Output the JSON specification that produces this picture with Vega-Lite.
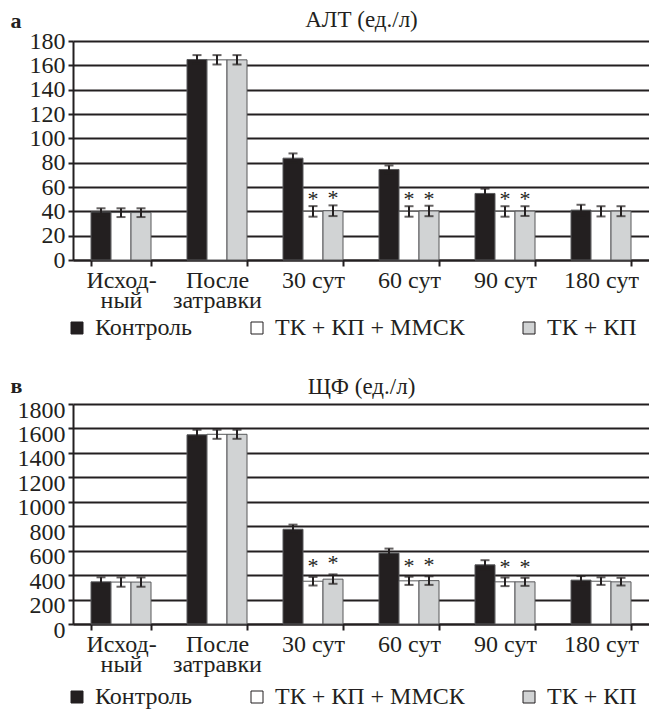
{
  "$schema": "https://vega.github.io/schema/vega-lite/v6.json",
  "background": "white",
  "padding": {"left": 10, "right": 0, "top": 8, "bottom": 0},
  "spacing": 34,
  "config": {
    "font": "Liberation Serif, Times New Roman, DejaVu Serif, serif",
    "view": {"stroke": null},
    "text": {"font": "Liberation Serif, Times New Roman, DejaVu Serif, serif"},
    "axis": {
      "labelFont": "Liberation Serif, Times New Roman, DejaVu Serif, serif", "labelFontSize": 24, "labelColor": "#231f20",
      "domainColor": "#231f20", "domainWidth": 2,
      "tickColor": "#231f20", "tickWidth": 2,
      "gridColor": "#231f20", "gridWidth": 2, "gridOpacity": 1,
      "titleFont": "Liberation Serif, Times New Roman, DejaVu Serif, serif", "titleColor": "#231f20"
    },
    "legend": {
      "orient": "none", "direction": "horizontal", "title": null,
      "symbolType": "square", "symbolSize": 144, "symbolStrokeColor": "#231f20", "symbolStrokeWidth": 1,
      "labelFont": "Liberation Serif, Times New Roman, DejaVu Serif, serif", "labelFontSize": 24, "labelColor": "#231f20",
      "labelLimit": 0, "columnPadding": 52, "labelOffset": 6, "padding": 0
    }
  },
  "datasets": {
    "a": [
      {"cat": "Исход-|ный", "grp": "Контроль", "v": 39.5, "lo": 36.5, "hi": 42.5, "star": ""},
      {"cat": "Исход-|ный", "grp": "ТК + КП + ММСК", "v": 39, "lo": 35.3, "hi": 42.5, "star": ""},
      {"cat": "Исход-|ный", "grp": "ТК + КП", "v": 39, "lo": 35.3, "hi": 42.5, "star": ""},
      {"cat": "После|затравки", "grp": "Контроль", "v": 164.8, "lo": 161.2, "hi": 168.4, "star": ""},
      {"cat": "После|затравки", "grp": "ТК + КП + ММСК", "v": 164.5, "lo": 160.7, "hi": 168.4, "star": ""},
      {"cat": "После|затравки", "grp": "ТК + КП", "v": 164.5, "lo": 160.7, "hi": 168.4, "star": ""},
      {"cat": "30 сут", "grp": "Контроль", "v": 83.7, "lo": 79.8, "hi": 87.6, "star": ""},
      {"cat": "30 сут", "grp": "ТК + КП + ММСК", "v": 40, "lo": 35.6, "hi": 44.3, "star": "*"},
      {"cat": "30 сут", "grp": "ТК + КП", "v": 40.5, "lo": 36.1, "hi": 44.9, "star": "*"},
      {"cat": "60 сут", "grp": "Контроль", "v": 74.4, "lo": 71.1, "hi": 77.7, "star": ""},
      {"cat": "60 сут", "grp": "ТК + КП + ММСК", "v": 40, "lo": 35.6, "hi": 44.2, "star": "*"},
      {"cat": "60 сут", "grp": "ТК + КП", "v": 40.3, "lo": 36, "hi": 44.6, "star": "*"},
      {"cat": "90 сут", "grp": "Контроль", "v": 54.7, "lo": 50.8, "hi": 58.6, "star": ""},
      {"cat": "90 сут", "grp": "ТК + КП + ММСК", "v": 40, "lo": 35.6, "hi": 44.2, "star": "*"},
      {"cat": "90 сут", "grp": "ТК + КП", "v": 40.2, "lo": 36.2, "hi": 44.2, "star": "*"},
      {"cat": "180 сут", "grp": "Контроль", "v": 41, "lo": 36.6, "hi": 45.4, "star": ""},
      {"cat": "180 сут", "grp": "ТК + КП + ММСК", "v": 40, "lo": 35.8, "hi": 44.2, "star": ""},
      {"cat": "180 сут", "grp": "ТК + КП", "v": 40.2, "lo": 36, "hi": 44.2, "star": ""}
    ],
    "b": [
      {"cat": "Исход-|ный", "grp": "Контроль", "v": 345, "lo": 308, "hi": 382, "star": ""},
      {"cat": "Исход-|ный", "grp": "ТК + КП + ММСК", "v": 343, "lo": 305, "hi": 381, "star": ""},
      {"cat": "Исход-|ный", "grp": "ТК + КП", "v": 343, "lo": 305, "hi": 381, "star": ""},
      {"cat": "После|затравки", "grp": "Контроль", "v": 1548, "lo": 1508, "hi": 1589, "star": ""},
      {"cat": "После|затравки", "grp": "ТК + КП + ММСК", "v": 1552, "lo": 1515, "hi": 1589, "star": ""},
      {"cat": "После|затравки", "grp": "ТК + КП", "v": 1552, "lo": 1515, "hi": 1589, "star": ""},
      {"cat": "30 сут", "grp": "Контроль", "v": 775, "lo": 737, "hi": 813, "star": ""},
      {"cat": "30 сут", "grp": "ТК + КП + ММСК", "v": 350, "lo": 315, "hi": 385, "star": "*"},
      {"cat": "30 сут", "grp": "ТК + КП", "v": 367, "lo": 329, "hi": 406, "star": "*"},
      {"cat": "60 сут", "grp": "Контроль", "v": 580, "lo": 543, "hi": 617, "star": ""},
      {"cat": "60 сут", "grp": "ТК + КП + ММСК", "v": 353, "lo": 320, "hi": 387, "star": "*"},
      {"cat": "60 сут", "grp": "ТК + КП", "v": 355, "lo": 320, "hi": 390, "star": "*"},
      {"cat": "90 сут", "grp": "Контроль", "v": 484, "lo": 446, "hi": 522, "star": ""},
      {"cat": "90 сут", "grp": "ТК + КП + ММСК", "v": 345, "lo": 310, "hi": 380, "star": "*"},
      {"cat": "90 сут", "grp": "ТК + КП", "v": 345, "lo": 312, "hi": 378, "star": "*"},
      {"cat": "180 сут", "grp": "Контроль", "v": 359, "lo": 326, "hi": 392, "star": ""},
      {"cat": "180 сут", "grp": "ТК + КП + ММСК", "v": 350, "lo": 320, "hi": 382, "star": ""},
      {"cat": "180 сут", "grp": "ТК + КП", "v": 345, "lo": 315, "hi": 378, "star": ""}
    ]
  },
  "resolve": {"scale": {"y": "independent", "color": "independent"}},
  "vconcat": [
    {
      "width": 576, "height": 219,
      "data": {"name": "a"},
      "resolve": {"axis": {"x": "independent"}},
      "layer": [
        {
          "mark": {"type": "bar", "stroke": "#58595b", "strokeWidth": 1},
          "encoding": {
            "x": {"field": "cat", "type": "nominal", "sort": null,
                  "scale": {"paddingInner": 0.375, "paddingOuter": 0.1875},
                  "axis": {"title": null, "labelAngle": 0, "labelExpr": "isString(datum.value) ? split(datum.value, '|') : ''", "tickBand": "extent", "tickSize": 6, "labelPadding": 2, "labelLineHeight": 20, "grid": false, "labelBaseline": "top"}},
            "xOffset": {"field": "grp", "type": "nominal", "sort": null,
                  "scale": {"domain": ["Контроль", "ТК + КП + ММСК", "ТК + КП"], "paddingInner": 0, "paddingOuter": 0}},
            "y": {"field": "v", "type": "quantitative", "title": "а",
                  "scale": {"domain": [0, 180], "nice": false},
                  "axis": {"values": [0, 20, 40, 60, 80, 100, 120, 140, 160, 180], "tickSize": 5, "labelPadding": 3,
                           "titleAngle": 0, "titleX": -63, "titleY": -13.5, "titleAlign": "left", "titleBaseline": "alphabetic",
                           "titleFontSize": 22, "titleFontWeight": "bold"}},
            "color": {"field": "grp", "type": "nominal", "sort": null,
                      "scale": {"domain": ["Контроль", "ТК + КП + ММСК", "ТК + КП"], "range": ["#231f20", "#ffffff", "#d1d3d4"]},
                      "legend": {"legendX": -8, "legendY": 275}}
          }
        },
        {
          "mark": {"type": "rule", "color": "#231f20", "strokeWidth": 2},
          "encoding": {
            "x": {"field": "cat", "type": "nominal", "sort": null,
                  "axis": {"orient": "top", "title": "АЛТ (ед./л)", "labels": false, "ticks": false, "domain": false, "grid": false,
                           "titleFontSize": 23, "titleFontWeight": "normal", "titleBaseline": "alphabetic", "titleY": -14.5, "titlePadding": 0}},
            "xOffset": {"field": "grp", "type": "nominal", "sort": null},
            "y": {"field": "lo", "type": "quantitative", "title": "а",
                  "axis": {"values": [0, 20, 40, 60, 80, 100, 120, 140, 160, 180], "tickSize": 5, "labelPadding": 3,
                           "titleAngle": 0, "titleX": -63, "titleY": -13.5, "titleAlign": "left", "titleBaseline": "alphabetic",
                           "titleFontSize": 22, "titleFontWeight": "bold"}},
            "y2": {"field": "hi"}
          }
        },
        {
          "mark": {"type": "tick", "color": "#231f20", "thickness": 2, "size": 9},
          "encoding": {
            "x": {"field": "cat", "type": "nominal", "sort": null, "axis": null},
            "xOffset": {"field": "grp", "type": "nominal", "sort": null},
            "y": {"field": "hi", "type": "quantitative", "title": "а",
                  "axis": {"values": [0, 20, 40, 60, 80, 100, 120, 140, 160, 180], "tickSize": 5, "labelPadding": 3,
                           "titleAngle": 0, "titleX": -63, "titleY": -13.5, "titleAlign": "left", "titleBaseline": "alphabetic",
                           "titleFontSize": 22, "titleFontWeight": "bold"}}
          }
        },
        {
          "mark": {"type": "tick", "color": "#231f20", "thickness": 2, "size": 9},
          "encoding": {
            "x": {"field": "cat", "type": "nominal", "sort": null, "axis": null},
            "xOffset": {"field": "grp", "type": "nominal", "sort": null},
            "y": {"field": "lo", "type": "quantitative", "title": "а",
                  "axis": {"values": [0, 20, 40, 60, 80, 100, 120, 140, 160, 180], "tickSize": 5, "labelPadding": 3,
                           "titleAngle": 0, "titleX": -63, "titleY": -13.5, "titleAlign": "left", "titleBaseline": "alphabetic",
                           "titleFontSize": 22, "titleFontWeight": "bold"}}
          }
        },
        {
          "transform": [{"filter": "datum.star == '*'"}],
          "mark": {"type": "text", "fontSize": 22, "baseline": "alphabetic", "dy": 0, "color": "#231f20"},
          "encoding": {
            "x": {"field": "cat", "type": "nominal", "sort": null, "axis": null},
            "xOffset": {"field": "grp", "type": "nominal", "sort": null},
            "y": {"field": "hi", "type": "quantitative", "title": "а",
                  "axis": {"values": [0, 20, 40, 60, 80, 100, 120, 140, 160, 180], "tickSize": 5, "labelPadding": 3,
                           "titleAngle": 0, "titleX": -63, "titleY": -13.5, "titleAlign": "left", "titleBaseline": "alphabetic",
                           "titleFontSize": 22, "titleFontWeight": "bold"}},
            "text": {"field": "star"}
          }
        }
      ]
    },
    {
      "width": 576, "height": 220,
      "data": {"name": "b"},
      "resolve": {"axis": {"x": "independent"}},
      "layer": [
        {
          "mark": {"type": "bar", "stroke": "#58595b", "strokeWidth": 1},
          "encoding": {
            "x": {"field": "cat", "type": "nominal", "sort": null,
                  "scale": {"paddingInner": 0.375, "paddingOuter": 0.1875},
                  "axis": {"title": null, "labelAngle": 0, "labelExpr": "isString(datum.value) ? split(datum.value, '|') : ''", "tickBand": "extent", "tickSize": 6, "labelPadding": 2, "labelLineHeight": 20, "grid": false, "labelBaseline": "top"}},
            "xOffset": {"field": "grp", "type": "nominal", "sort": null,
                  "scale": {"domain": ["Контроль", "ТК + КП + ММСК", "ТК + КП"], "paddingInner": 0, "paddingOuter": 0}},
            "y": {"field": "v", "type": "quantitative", "title": "в",
                  "scale": {"domain": [0, 1800], "nice": false},
                  "axis": {"values": [0, 200, 400, 600, 800, 1000, 1200, 1400, 1600, 1800], "format": "d", "tickSize": 5, "labelPadding": 3, "labelOffset": 6,
                           "titleAngle": 0, "titleX": -63, "titleY": -12, "titleAlign": "left", "titleBaseline": "alphabetic",
                           "titleFontSize": 22, "titleFontWeight": "bold"}},
            "color": {"field": "grp", "type": "nominal", "sort": null,
                      "scale": {"domain": ["Контроль", "ТК + КП + ММСК", "ТК + КП"], "range": ["#231f20", "#ffffff", "#d1d3d4"]},
                      "legend": {"legendX": -8, "legendY": 281}}
          }
        },
        {
          "mark": {"type": "rule", "color": "#231f20", "strokeWidth": 2},
          "encoding": {
            "x": {"field": "cat", "type": "nominal", "sort": null,
                  "axis": {"orient": "top", "title": "ЩФ (ед./л)", "labels": false, "ticks": false, "domain": false, "grid": false,
                           "titleFontSize": 23, "titleFontWeight": "normal", "titleBaseline": "alphabetic", "titleY": -10.5, "titlePadding": 0}},
            "xOffset": {"field": "grp", "type": "nominal", "sort": null},
            "y": {"field": "lo", "type": "quantitative", "title": "в",
                  "axis": {"values": [0, 200, 400, 600, 800, 1000, 1200, 1400, 1600, 1800], "format": "d", "tickSize": 5, "labelPadding": 3, "labelOffset": 6,
                           "titleAngle": 0, "titleX": -63, "titleY": -12, "titleAlign": "left", "titleBaseline": "alphabetic",
                           "titleFontSize": 22, "titleFontWeight": "bold"}},
            "y2": {"field": "hi"}
          }
        },
        {
          "mark": {"type": "tick", "color": "#231f20", "thickness": 2, "size": 9},
          "encoding": {
            "x": {"field": "cat", "type": "nominal", "sort": null, "axis": null},
            "xOffset": {"field": "grp", "type": "nominal", "sort": null},
            "y": {"field": "hi", "type": "quantitative", "title": "в",
                  "axis": {"values": [0, 200, 400, 600, 800, 1000, 1200, 1400, 1600, 1800], "format": "d", "tickSize": 5, "labelPadding": 3, "labelOffset": 6,
                           "titleAngle": 0, "titleX": -63, "titleY": -12, "titleAlign": "left", "titleBaseline": "alphabetic",
                           "titleFontSize": 22, "titleFontWeight": "bold"}}
          }
        },
        {
          "mark": {"type": "tick", "color": "#231f20", "thickness": 2, "size": 9},
          "encoding": {
            "x": {"field": "cat", "type": "nominal", "sort": null, "axis": null},
            "xOffset": {"field": "grp", "type": "nominal", "sort": null},
            "y": {"field": "lo", "type": "quantitative", "title": "в",
                  "axis": {"values": [0, 200, 400, 600, 800, 1000, 1200, 1400, 1600, 1800], "format": "d", "tickSize": 5, "labelPadding": 3, "labelOffset": 6,
                           "titleAngle": 0, "titleX": -63, "titleY": -12, "titleAlign": "left", "titleBaseline": "alphabetic",
                           "titleFontSize": 22, "titleFontWeight": "bold"}}
          }
        },
        {
          "transform": [{"filter": "datum.star == '*'"}],
          "mark": {"type": "text", "fontSize": 22, "baseline": "alphabetic", "dy": -4, "color": "#231f20"},
          "encoding": {
            "x": {"field": "cat", "type": "nominal", "sort": null, "axis": null},
            "xOffset": {"field": "grp", "type": "nominal", "sort": null},
            "y": {"field": "hi", "type": "quantitative", "title": "в",
                  "axis": {"values": [0, 200, 400, 600, 800, 1000, 1200, 1400, 1600, 1800], "format": "d", "tickSize": 5, "labelPadding": 3, "labelOffset": 6,
                           "titleAngle": 0, "titleX": -63, "titleY": -12, "titleAlign": "left", "titleBaseline": "alphabetic",
                           "titleFontSize": 22, "titleFontWeight": "bold"}},
            "text": {"field": "star"}
          }
        }
      ]
    }
  ]
}
